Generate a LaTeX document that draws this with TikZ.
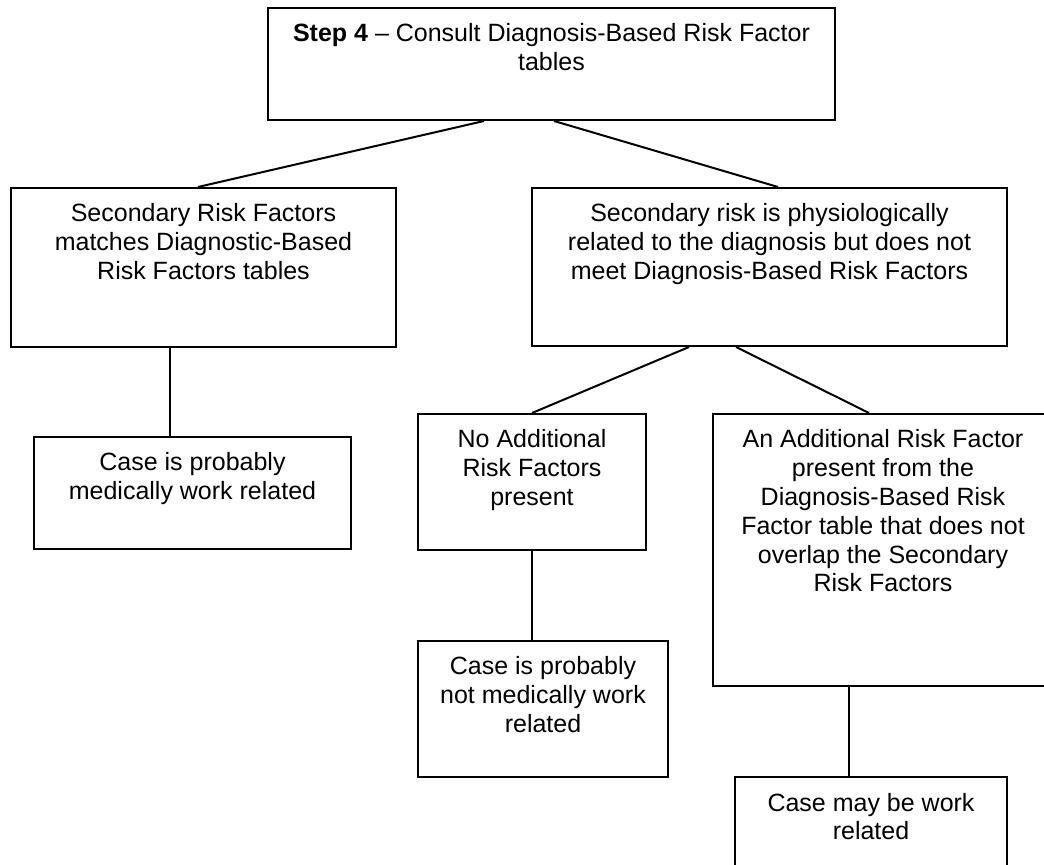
\documentclass[tikz,border=0pt]{standalone}
\usepackage{fontspec}
\setmainfont{Liberation Sans}
\newcommand{\flowtext}[3]{\parbox[t][#2][t]{#1}{\centering\rule{0pt}{17pt}#3}}

\begin{document}
\begin{tikzpicture}[x=0.5pt,y=-0.5pt,
  flowbox/.style={draw,line width=1pt,inner sep=0pt,anchor=north west,
    font=\fontsize{12.5}{14.4}\selectfont},
  link/.style={line width=1pt}]
\useasboundingbox (0,0) rectangle (1044,865);
% boxes
\node[flowbox] (step) at (267,7)
  {\flowtext{283.5pt}{56pt}{\textbf{Step 4} -- Consult Diagnosis-Based Risk Factor\\tables}};
\node[flowbox] (sec) at (10,187)
  {\flowtext{192.5pt}{79.5pt}{Secondary Risk Factors\\matches Diagnostic-Based\\Risk Factors tables}};
\node[flowbox] (phys) at (531,187)
  {\flowtext{237.5pt}{79pt}{Secondary risk is physiologically\\related to the diagnosis but does not\\meet Diagnosis-Based Risk Factors}};
\node[flowbox] (likely) at (33,436)
  {\flowtext{158.5pt}{56pt}{Case is probably\\medically work related}};
\node[flowbox] (none) at (417,413)
  {\flowtext{114pt}{68pt}{No Additional\\Risk Factors\\present}};
\node[flowbox] (extra) at (712,413)
  {\flowtext{170pt}{136pt}{An Additional Risk Factor\\present from the\\Diagnosis-Based Risk\\Factor table that does not\\overlap the Secondary\\Risk Factors}};
\node[flowbox] (unlikely) at (417,640)
  {\flowtext{125pt}{68pt}{Case is probably\\not medically work\\related}};
\node[flowbox] (maybe) at (734,776)
  {\flowtext{136pt}{60pt}{Case may be work\\related}};
% connectors
\draw[link] ([xshift=-33.75pt]step.south) -- ([xshift=-2.75pt]sec.north);
\draw[link] ([xshift=1.25pt]step.south) -- ([xshift=4.25pt]phys.north);
\draw[link] ([xshift=-16.75pt]sec.south) -- ([xshift=-16.75pt]sec.south |- likely.north);
\draw[link] ([xshift=-40.25pt]phys.south) -- (none.north);
\draw[link] ([xshift=-16.75pt]phys.south) -- ([xshift=-7pt]extra.north);
\draw[link] (none.south) -- (none.south |- unlikely.north);
\draw[link] ([xshift=-17pt]extra.south) -- ([xshift=-17pt]extra.south |- maybe.north);
\end{tikzpicture}
\end{document}
